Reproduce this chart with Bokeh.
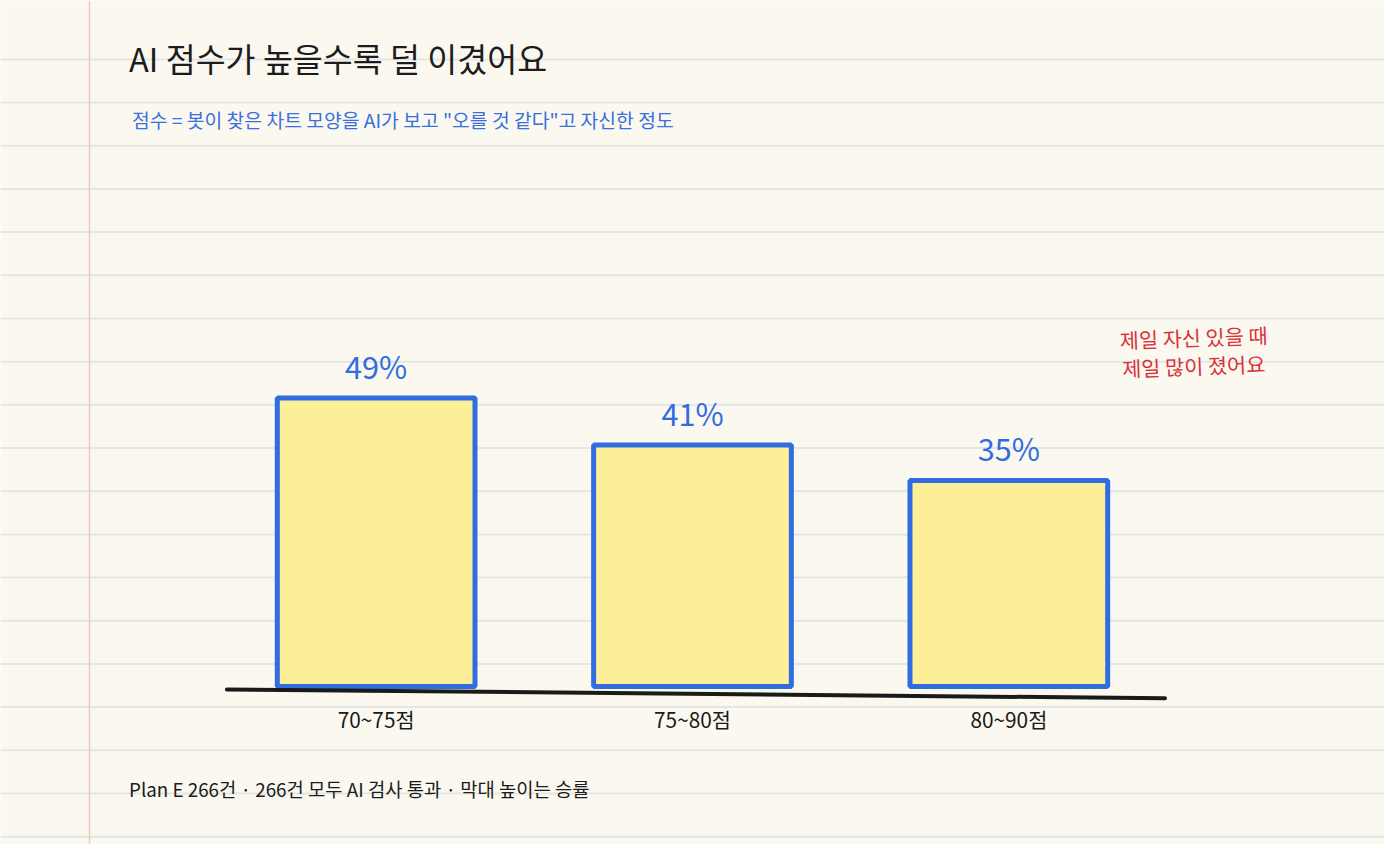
from bokeh.plotting import figure
from bokeh.models import FactorRange, Range1d, Span, Label
from bokeh.embed import file_html
from bokeh.resources import INLINE
from bokeh.core.properties import value

# ---- data ----
categories = ["70~75점", "75~80점", "80~90점"]
win_rates = [49, 41, 35]
rate_labels = ["49%", "41%", "35%"]
title_text = "AI 점수가 높을수록 덜 이겼어요"
subtitle_text = '점수 = 봇이 찾은 차트 모양을 AI가 보고 "오를 것 같다"고 자신한 정도'
note_lines = ["제일 자신 있을 때", "제일 많이 졌어요"]
footer_text = "Plan E 266건 · 266건 모두 AI 검사 통과 · 막대 높이는 승률"

# ---- layout (design drawn on a 1400x860 sheet, scaled to the figure) ----
W, H = 1384, 844
KX, KY = W / 1400, H / 860
SLOT = 320 * KX            # px per category slot
PX_PER_UNIT = 6 * KY       # px per percentage point
BASE_Y = 699 * KY          # baseline, px from figure top

pad_units = W / SLOT - len(categories)
x_start = -pad_units / 2
y_start = -(H - BASE_Y) / PX_PER_UNIT
y_end = BASE_Y / PX_PER_UNIT


def sx(img_x):
    return x_start + img_x * KX / SLOT


def sy(img_y):
    return y_start + (H - img_y * KY) / PX_PER_UNIT


def fs(px):
    return "%.1fpx" % (px * KX)


FONT_NAME = "Noto Sans CJK KR"
FONT = value(FONT_NAME)
BG = "#fbf8f0"
BLUE = "#2f6de0"

p = figure(width=W, height=H,
           x_range=FactorRange(*categories, range_padding=pad_units / 2,
                               range_padding_units="absolute"),
           y_range=Range1d(y_start, y_end),
           x_axis_location=None, y_axis_location=None,
           output_backend="svg", toolbar_location=None, title=None,
           min_border=0)
p.grid.visible = False
p.outline_line_color = None
p.background_fill_color = BG
p.border_fill_color = BG

# notebook ruling
for k in range(19):
    p.add_layout(Span(location=sy(60 + 44 * k), dimension="width",
                      line_color="#e3e6e6", line_width=2, level="underlay"))
p.add_layout(Span(location=sx(90), dimension="height",
                  line_color="#efc8c2", line_width=1.5, level="underlay"))

# bars
p.vbar(x=categories, top=win_rates, bottom=0, width=0.625,
       fill_color="#fdee98", line_color=BLUE, line_width=5)

# baseline (slightly sloped, hand-drawn look)
p.segment(x0=[sx(229)], y0=[sy(702)], x1=[sx(1178)], y1=[sy(711)],
          line_color="#1a1a1a", line_width=4, line_cap="round")

# value labels
p.text(x=categories, y=[r + 33 / 6 for r in win_rates], text=rate_labels,
       text_font=FONT, text_font_size=fs(31), text_color=BLUE,
       text_align="center", text_baseline="middle")

# category labels
p.text(x=categories, y=[sy(732)] * len(categories), text=categories,
       text_font=FONT, text_font_size=fs(21), text_color="#1a1a1a",
       text_align="center", text_baseline="middle")

# titles
p.add_layout(Label(x=sx(130), y=sy(58), text=title_text, text_font=FONT_NAME,
                   text_font_size=fs(33), text_color="#1c1c1c",
                   text_baseline="middle"))
p.add_layout(Label(x=sx(133), y=sy(122), text=subtitle_text, text_font=FONT_NAME,
                   text_font_size=fs(19.5), text_color="#3a6fe0",
                   text_baseline="middle"))

# annotation
for t, yy in zip(note_lines, [343, 372]):
    p.add_layout(Label(x=sx(1207), y=sy(yy), text=t, text_font=FONT_NAME,
                       text_font_size=fs(21), text_color="#d8333a",
                       text_align="center", text_baseline="middle", angle=0.035))

# footer
p.add_layout(Label(x=sx(130), y=sy(803), text=footer_text, text_font=FONT_NAME,
                   text_font_size=fs(19), text_color="#1c1c1c",
                   text_baseline="middle"))

html = file_html(p, INLINE)
html = html.replace("<body>", '<body style="background-color:%s;">' % BG, 1)
open("out.html", "w").write(html)
